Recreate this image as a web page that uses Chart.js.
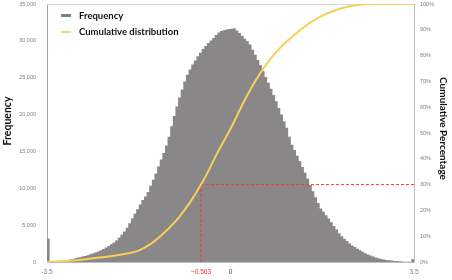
<!DOCTYPE html>
<html><head><meta charset="utf-8">
<script src="https://cdn.jsdelivr.net/npm/chart.js@4/dist/chart.umd.min.js"></script>
<style>html,body{margin:0;padding:0;background:#fff;}#wrap{width:452px;height:280px;}</style>
</head><body><div id="wrap"><canvas id="c" width="452" height="280"></canvas></div>
<script>
// ---- data ----
const binStart = -3.5;
const binWidth = 0.05;
const frequency = [
 3180,20,30,50,70,110,160,220,290,370,
 470,590,660,740,830,920,1040,1160,1290,1420,
 1600,1780,1980,2180,2420,2660,2920,3300,3700,4150,
 4650,5250,5900,6550,7150,7800,8400,8900,9500,10350,
 11150,12000,12950,13900,14800,15800,17000,18400,19800,21100,
 22300,23400,24500,25400,26100,26800,27350,27900,28400,28900,
 29300,29700,30050,30400,30800,31150,31350,31450,31550,31600,
 31650,31700,31400,31050,30700,30300,29950,29500,28800,28100,
 27400,26700,25900,25100,24300,23500,22650,21800,20900,20000,
 19100,18200,17000,15900,15200,14400,13700,12900,12100,11300,
 10450,9600,8800,8000,7250,6800,6350,5900,5400,4900,
 4400,3900,3500,3150,2850,2500,2250,2020,1800,1580,
 1380,1200,1020,880,750,620,510,420,340,280,
 230,190,150,120,100,70,50,35,25,400
];
const cumulativeX   = [-3.5,-3.25,-3.0,-2.75,-2.5,-2.25,-2.0,-1.75,-1.5,-1.25,-1.0,-0.75,-0.563,-0.5,-0.25,0,0.25,0.5,0.75,1.0,1.25,1.5,1.75,2.0,2.25,2.5,2.75,3.0,3.25,3.5];
const cumulativePct = [0,0.25,0.6,1.1,1.7,2.35,3.2,4.4,7.3,11.6,16.9,23.8,30,32.2,42.3,51.6,61.9,71,78.4,84.1,88.6,92.5,95.5,97.6,99.0,99.85,100,100,100,100];
const xTickValues = [-3.5, -0.563, 0, 3.5];
const xTickLabels = ['-3.5', '\u22120.563', '0', '3.5'];
const markerX = -0.563;
const markerPct = 30;
const xMin = -3.5, xMax = 3.5;
const freqMax = 35000, freqStep = 5000;
const pctMax = 100, pctStep = 10;
const seriesNames = ['Frequency', 'Cumulative distribution'];
const axisTitles = ['Frequency', 'Cumulative Percentage'];

// ---- styles ----
const GRAY = '#898787';
const GOLD = '#f7cf5a';
const RED = '#ff3333';
const xTickColors = ['#7f7f7f', '#ff2a2a', '#404040', '#7f7f7f'];
const TICKFONT = 'Liberation Sans';
const TITLEFONT = 'Lato';

// histogram as a filled step outline: each bin starts at its left edge; the last edge closes the outline
const histData = frequency.map((v, i) => ({x: binStart + binWidth * i, y: v}));
histData.push({x: xMax, y: frequency[frequency.length - 1]});
const cumData = cumulativeX.map((x, i) => ({x, y: cumulativePct[i]}));

const decor = {
  id: 'decor',
  beforeDatasetsDraw(chart) {
    const {ctx, chartArea: a} = chart;
    ctx.save();
    ctx.strokeStyle = '#d9d9d9'; ctx.lineWidth = 1;
    ctx.beginPath(); ctx.moveTo(a.left, a.top + 0.5); ctx.lineTo(a.right, a.top + 0.5); ctx.stroke();
    ctx.restore();
  },
  afterDraw(chart) {
    const {ctx, chartArea: a} = chart;
    ctx.save();
    ctx.lineCap = 'butt';
    ctx.strokeStyle = '#808080'; ctx.lineWidth = 3;
    ctx.beginPath(); ctx.moveTo(a.left + 14, 15.5); ctx.lineTo(a.left + 24, 15.5); ctx.stroke();
    ctx.strokeStyle = '#ffd966'; ctx.lineWidth = 2;
    ctx.beginPath(); ctx.moveTo(a.left + 14, 32); ctx.lineTo(a.left + 24, 32); ctx.stroke();
    ctx.fillStyle = '#111';
    ctx.font = 'bold 9.5px ' + TITLEFONT;
    ctx.textBaseline = 'middle'; ctx.textAlign = 'left';
    ctx.fillText(seriesNames[0], a.left + 32, 15.5);
    ctx.fillText(seriesNames[1], a.left + 32, 32);
    ctx.textAlign = 'center';
    ctx.font = 'bold 10.5px ' + TITLEFONT;
    ctx.save(); ctx.translate(8, 121); ctx.rotate(-Math.PI / 2); ctx.fillText(axisTitles[0], 0, 0); ctx.restore();
    ctx.font = 'bold 10px ' + TITLEFONT;
    ctx.save(); ctx.translate(443, 128.5); ctx.rotate(Math.PI / 2); ctx.fillText(axisTitles[1], 0, 0); ctx.restore();
    ctx.restore();
  }
};

function fixVertical(width) {
  return s => { s.width = width; s.paddingTop = 4; s.paddingBottom = 0; };
}

new Chart(document.getElementById('c'), {
  type: 'line',
  data: {
    datasets: [
      {label: 'markerH', data: [{x: markerX, y: markerPct}, {x: xMax, y: markerPct}], yAxisID: 'y2',
       borderColor: RED, borderWidth: 1, borderDash: [3, 2], pointRadius: 0, fill: false, order: 1},
      {label: 'markerV', data: [{x: markerX, y: 0}, {x: markerX, y: markerPct}], yAxisID: 'y2',
       borderColor: RED, borderWidth: 1, borderDash: [3, 2], pointRadius: 0, fill: false, order: 1},
      {label: seriesNames[1], data: cumData, yAxisID: 'y2', borderColor: GOLD, borderWidth: 2,
       pointRadius: 0, cubicInterpolationMode: 'monotone', fill: false, order: 0},
      {label: seriesNames[0], data: histData, yAxisID: 'y', stepped: 'before', fill: 'origin',
       backgroundColor: GRAY, borderColor: 'rgba(0,0,0,0)', borderWidth: 0, pointRadius: 0, order: 2}
    ]
  },
  options: {
    responsive: false, animation: false,
    layout: {padding: 0},
    plugins: {legend: {display: false}, tooltip: {enabled: false}},
    scales: {
      x: {
        type: 'linear', min: xMin, max: xMax, offset: false,
        grid: {display: false, drawTicks: false},
        border: {display: true, color: '#bfbfbf', width: 1},
        afterBuildTicks: s => { s.ticks = xTickValues.map(v => ({value: v})); },
        afterFit: s => { s.height = 18; s.paddingLeft = 0; s.paddingRight = 0; },
        ticks: {
          autoSkip: false, maxRotation: 0, padding: 6,
          font: {family: TICKFONT, size: 6.5},
          color: c => xTickColors[c.index] || '#7f7f7f',
          callback: (v, i) => xTickLabels[i]
        }
      },
      y: {
        position: 'left', min: 0, max: freqMax,
        grid: {display: false, drawTicks: false},
        border: {display: true, color: '#a6a6a6', width: 1},
        afterFit: fixVertical(47),
        ticks: {stepSize: freqStep, padding: 11, font: {family: TICKFONT, size: 5.5}, color: '#7f7f7f',
          callback: v => v.toLocaleString('en-US')}
      },
      y2: {
        position: 'right', min: 0, max: pctMax,
        grid: {display: false, drawTicks: false},
        border: {display: true, color: '#bfbfbf', width: 1},
        afterFit: fixVertical(38),
        ticks: {stepSize: pctStep, padding: 6, font: {family: TICKFONT, size: 5.5}, color: '#7f7f7f',
          callback: v => v + '%'}
      }
    }
  },
  plugins: [decor]
});
</script>
</body></html>
